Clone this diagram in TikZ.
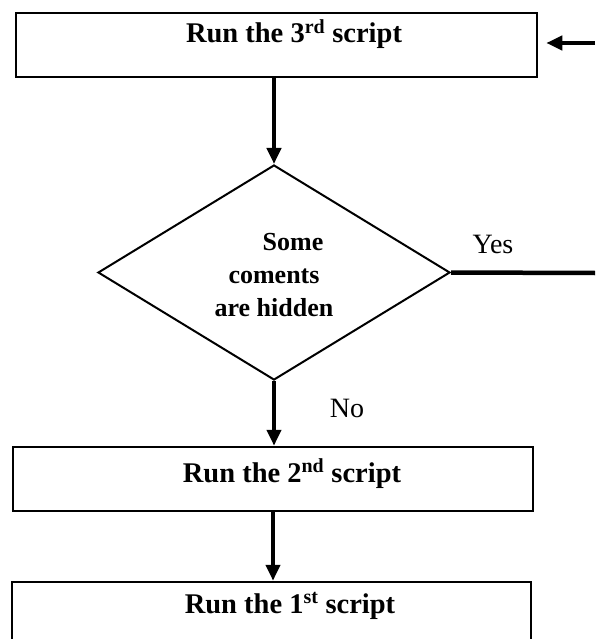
\documentclass[tikz,border=0pt]{standalone}
\usepackage{fontspec}
\setmainfont{Liberation Serif}
\usetikzlibrary{arrows.meta,shapes.geometric}
\begin{document}
\begin{tikzpicture}[x=1pt,y=-1pt,
  box/.style={draw, line width=2.5pt, inner sep=0pt, minimum height=64pt},
  decision/.style={draw, diamond, line width=2pt, inner sep=0pt, minimum width=352pt, minimum height=215pt},
  conn/.style={line width=4.5pt, -{Triangle[length=16pt,width=14pt]}},
  plainline/.style={line width=4.5pt},
  boxtext/.style={font=\bfseries\fontsize{28.5}{33}\selectfont, inner sep=0pt, anchor=base},
  dectext/.style={font=\bfseries\fontsize{26}{33}\selectfont, inner sep=0pt, anchor=base},
  lbl/.style={font=\fontsize{28}{33}\selectfont, inner sep=0pt, anchor=base}]
\useasboundingbox (0,0) rectangle (595,639);
\fill[white] (0,0) rectangle (595,639);

\node[box, minimum width=521pt] (b3) at (276.5,45) {};
\node[decision] (dia) at (274,272.5) {};
\node[box, minimum width=520pt] (b2) at (273,479) {};
\node[box, minimum width=519pt] (b1) at (271.5,614) {};

\node[boxtext] (t3) at (294,43) {Run the 3\textsuperscript{rd} script};
\node[boxtext] (t2) at (292,482) {Run the 2\textsuperscript{nd} script};
\node[boxtext] (t1) at (290,613) {Run the 1\textsuperscript{st} script};

\node[dectext] (d1) at (293,250) {Some};
\node[dectext] (d2) at (274,283) {coments};
\node[dectext] (d3) at (274,316) {are hidden};

\node[lbl] (yes) at (493,253) {Yes};
\node[lbl] (no) at (347,417) {No};

\coordinate (e1) at (595,43);
\coordinate (e2) at (595,273);

\draw[conn] (dia.north |- b3.south) -- (dia.north);
\draw[conn] (dia.south) -- (dia.south |- b2.north);
\draw[conn] (b2.south) -- (b2.south |- b1.north);
\draw[plainline] (dia.east) -- (e2);
\draw[conn, shorten >=8pt] (e1) -- (b3.east |- e1);
\end{tikzpicture}
\end{document}
